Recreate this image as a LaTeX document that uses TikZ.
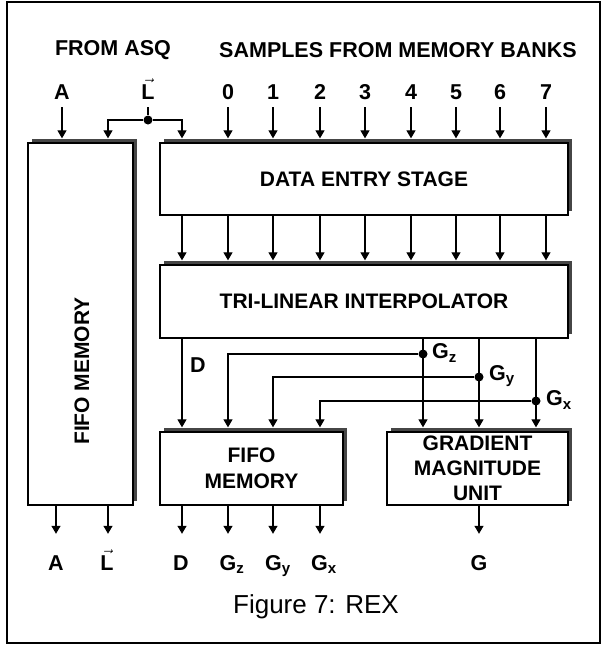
\documentclass[tikz,border=0pt]{standalone}
\usepackage{amsmath}
\usepackage{fontspec}
\setmainfont{Liberation Sans}
\usepackage{tikz}
\usetikzlibrary{arrows.meta, calc, positioning, shadows}
\definecolor{bandgray}{RGB}{70,70,70}

\begin{document}
\begin{tikzpicture}[x=1pt, y=-1pt,
  every node/.style = {inner sep=0pt, font=\fontsize{21.5}{23}\selectfont\bfseries},
  unit/.style  = {rectangle, draw, line width=1.3pt, fill=white, align=center,
                  general shadow={fill=bandgray, shadow xshift=4pt, shadow yshift=4pt},
                  font=\fontsize{21}{25}\selectfont\bfseries},
  port/.style  = {anchor=base, text height=14pt, text depth=4pt},
  arr/.style   = {-{Triangle[width=9pt,length=8pt]}, line width=1.2pt},
  outarr/.style = {arr, shorten >=22pt},
  wire/.style  = {line width=1.2pt},
  dot/.style   = {circle, fill, minimum size=9pt},
]
\useasboundingbox (0,0) rectangle (601,646);
\draw[line width=2pt] (7,2) rectangle (600,643);
% Headings
\node (asq)   at (113,50) {FROM ASQ};
\node (banks) at (398,50) {SAMPLES FROM MEMORY BANKS};
% Units
\node[unit, minimum width=105pt, minimum height=362pt] (fifoL)  at (80.5,324) {};
\node[rotate=90, font=\fontsize{21}{25}\selectfont\bfseries] (fifoLtxt) at (82,371) {FIFO MEMORY};
\node[unit, minimum width=408pt, minimum height=72pt]  (entry)  at (364,179) {DATA ENTRY STAGE};
\node[unit, minimum width=408pt, minimum height=73pt]  (interp) at (364,301.5) {TRI-LINEAR INTERPOLATOR};
\node[unit, minimum width=183pt, minimum height=73pt]  (fifoS)  at (251.5,468.5) {FIFO\\[1pt]MEMORY};
\node[unit, minimum width=181pt, minimum height=73pt]  (gmu)    at (477.5,468.5) {GRADIENT\\MAGNITUDE\\UNIT};
% Inputs from ASQ
\node[port] (ain) at (62,99)  {A};
\node[port] (lin) at (148,99) {$\vec{\text{L}}$};
\draw[arr, shorten <=4pt, shorten >=4pt] (ain.south) -- (ain |- fifoL.north);
\node[dot] (jl) at (148,120) {};
\coordinate (ll) at (108,120);
\coordinate (lr) at (182,120);
\draw[wire, shorten <=4pt] (lin.south) -- (jl);
\draw[arr, shorten >=4pt] (jl) -- (ll) -- (ll |- fifoL.north);
\draw[arr, shorten >=4pt] (jl) -- (lr) -- (lr |- entry.north);
\draw[arr, shorten >=4pt] (lr |- entry.south) -- (lr |- interp.north);
% Samples from memory banks
\foreach \d/\x in {0/228,1/273,2/320,3/365,4/411,5/456,6/500,7/546} {
  \node[port] (s\d) at (\x,99) {\d};
  \draw[arr, shorten <=4pt, shorten >=4pt] (s\d.south) -- (s\d |- entry.north);
  \draw[arr, shorten >=4pt] (s\d |- entry.south) -- (s\d |- interp.north);
}
% Interpolator outputs
\node[dot] (jz) at (423,354) {};
\node[dot] (jy) at (479,377) {};
\node[dot] (jx) at (536,401) {};
\draw[arr, shorten >=4pt] (lr |- interp.south) -- (lr |- fifoS.north);
\node (dlab) at (198,365) {D};
\foreach \j/\c in {jz/s0, jy/s1, jx/s2} {
  \draw[arr, shorten >=4pt] (\j |- interp.south) -- (\j |- gmu.north);
  \draw[arr, shorten >=4pt] (\j) -| (\c |- fifoS.north);
}
\node[anchor=west] (gzlab) at (432,353) {G\textsubscript{z}};
\node[anchor=west] (gylab) at (489,376) {G\textsubscript{y}};
\node[anchor=west] (gxlab) at (546,400) {G\textsubscript{x}};
% Outputs
\node[port] (aout)  at (56,570)  {A};
\node[port] (lout)  at (107,570) {$\vec{\text{L}}$};
\node[port] (dout)  at (181,570) {D};
\node[port] (gzout) at (232,570) {G\textsubscript{z}};
\node[port] (gyout) at (278,570) {G\textsubscript{y}};
\node[port] (gxout) at (324,570) {G\textsubscript{x}};
\node[port] (gout)  at (479,570) {G};
\draw[outarr] (aout |- fifoL.south) -- (aout |- aout.north);
\draw[outarr] (ll |- fifoL.south) -- (ll |- lout.north);
\draw[outarr] (lr |- fifoS.south) -- (lr |- dout.north);
\draw[outarr] (s0 |- fifoS.south) -- (s0 |- gzout.north);
\draw[outarr] (s1 |- fifoS.south) -- (s1 |- gyout.north);
\draw[outarr] (s2 |- fifoS.south) -- (s2 |- gxout.north);
\draw[outarr] (jy |- gmu.south) -- (jy |- gout.north);
% Caption
\node[font=\fontsize{26}{28}\selectfont] (cap) at (316,607) {Figure 7: REX};
\end{tikzpicture}
\end{document}
